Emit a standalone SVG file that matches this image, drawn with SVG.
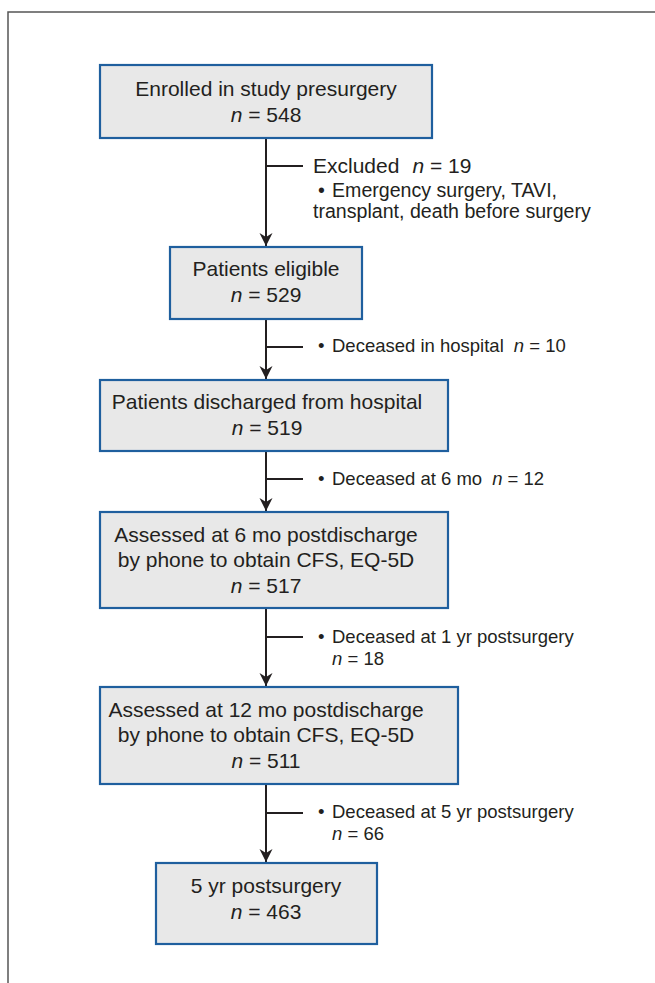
<svg xmlns="http://www.w3.org/2000/svg" width="655" height="983" viewBox="0 0 655 983">
<defs>
<style>
.box{fill:#e8e8e8;stroke:#1f5f9e;stroke-width:2.2}
.bt{font-family:"Liberation Sans",Arial,sans-serif;font-size:21px;fill:#231f20;text-anchor:middle}
.st{font-family:"Liberation Sans",Arial,sans-serif;font-size:18.5px;fill:#231f20}
.sh{font-family:"Liberation Sans",Arial,sans-serif;font-size:21px;fill:#231f20}
.sb{font-family:"Liberation Sans",Arial,sans-serif;font-size:19.6px;fill:#231f20}
.it{font-style:italic}
.ln{stroke:#231f20;stroke-width:2;fill:none}
</style>
<marker id="ah" markerUnits="userSpaceOnUse" markerWidth="16" markerHeight="16" viewBox="-14 -8 16 16" refX="0" refY="0" orient="auto">
<path d="M0,0 L-13,-6.5 L-9,0 L-13,6.5 Z" fill="#231f20"/>
</marker>
</defs>
<rect width="655" height="983" fill="#fff"/>
<path d="M8,983 V12 H655" fill="none" stroke="#555" stroke-width="1.5"/>

<g id="connectors">
<line class="ln" x1="266" y1="139" x2="266" y2="246" marker-end="url(#ah)"/>
<line class="ln" x1="266" y1="166" x2="303" y2="166"/>
<line class="ln" x1="266" y1="320" x2="266" y2="379" marker-end="url(#ah)"/>
<line class="ln" x1="266" y1="347" x2="303" y2="347"/>
<line class="ln" x1="266" y1="452" x2="266" y2="511" marker-end="url(#ah)"/>
<line class="ln" x1="266" y1="479" x2="303" y2="479"/>
<line class="ln" x1="266" y1="609" x2="266" y2="686" marker-end="url(#ah)"/>
<line class="ln" x1="266" y1="637" x2="303" y2="637"/>
<line class="ln" x1="266" y1="785" x2="266" y2="862" marker-end="url(#ah)"/>
<line class="ln" x1="266" y1="813" x2="303" y2="813"/>
</g>

<g id="n1">
<rect class="box" x="100" y="65" width="332" height="73"/>
<text class="bt" x="266" y="96">Enrolled in study presurgery</text>
<text class="bt" x="266" y="122"><tspan class="it">n</tspan> = 548</text>
</g>

<g id="excl1">
<text class="sh" x="313" y="173">Excluded<tspan class="it" dx="13">n</tspan> = 19</text>
<text class="sb" x="318" y="197">•</text>
<text class="sb" x="332" y="197">Emergency surgery, TAVI,</text>
<text class="sb" x="313" y="218">transplant, death before surgery</text>
</g>

<g id="n2">
<rect class="box" x="170" y="247" width="192" height="72"/>
<text class="bt" x="266" y="276">Patients eligible</text>
<text class="bt" x="266" y="302"><tspan class="it">n</tspan> = 529</text>
</g>

<g id="excl2">
<text class="st" x="318" y="352">•</text>
<text class="st" x="332" y="352">Deceased in hospital<tspan class="it" dx="10">n</tspan> = 10</text>
</g>

<g id="n3">
<rect class="box" x="100" y="380" width="348" height="71"/>
<text class="bt" x="267" y="409">Patients discharged from hospital</text>
<text class="bt" x="267" y="435"><tspan class="it">n</tspan> = 519</text>
</g>

<g id="excl3">
<text class="st" x="318" y="485">•</text>
<text class="st" x="332" y="485">Deceased at 6 mo<tspan class="it" dx="10">n</tspan> = 12</text>
</g>

<g id="n4">
<rect class="box" x="100" y="512" width="348" height="96"/>
<text class="bt" x="266" y="542">Assessed at 6 mo postdischarge</text>
<text class="bt" x="266" y="567">by phone to obtain CFS, EQ-5D</text>
<text class="bt" x="266" y="593"><tspan class="it">n</tspan> = 517</text>
</g>

<g id="excl4">
<text class="st" x="318" y="643">•</text>
<text class="st" x="332" y="643">Deceased at 1 yr postsurgery</text>
<text class="st" x="332" y="665"><tspan class="it">n</tspan> = 18</text>
</g>

<g id="n5">
<rect class="box" x="100" y="687" width="358" height="97"/>
<text class="bt" x="266" y="717">Assessed at 12 mo postdischarge</text>
<text class="bt" x="266" y="742">by phone to obtain CFS, EQ-5D</text>
<text class="bt" x="266" y="768"><tspan class="it">n</tspan> = 511</text>
</g>

<g id="excl5">
<text class="st" x="318" y="818">•</text>
<text class="st" x="332" y="818">Deceased at 5 yr postsurgery</text>
<text class="st" x="332" y="840"><tspan class="it">n</tspan> = 66</text>
</g>

<g id="n6">
<rect class="box" x="156" y="863" width="221" height="81"/>
<text class="bt" x="266" y="893">5 yr postsurgery</text>
<text class="bt" x="266" y="919"><tspan class="it">n</tspan> = 463</text>
</g>
</svg>
